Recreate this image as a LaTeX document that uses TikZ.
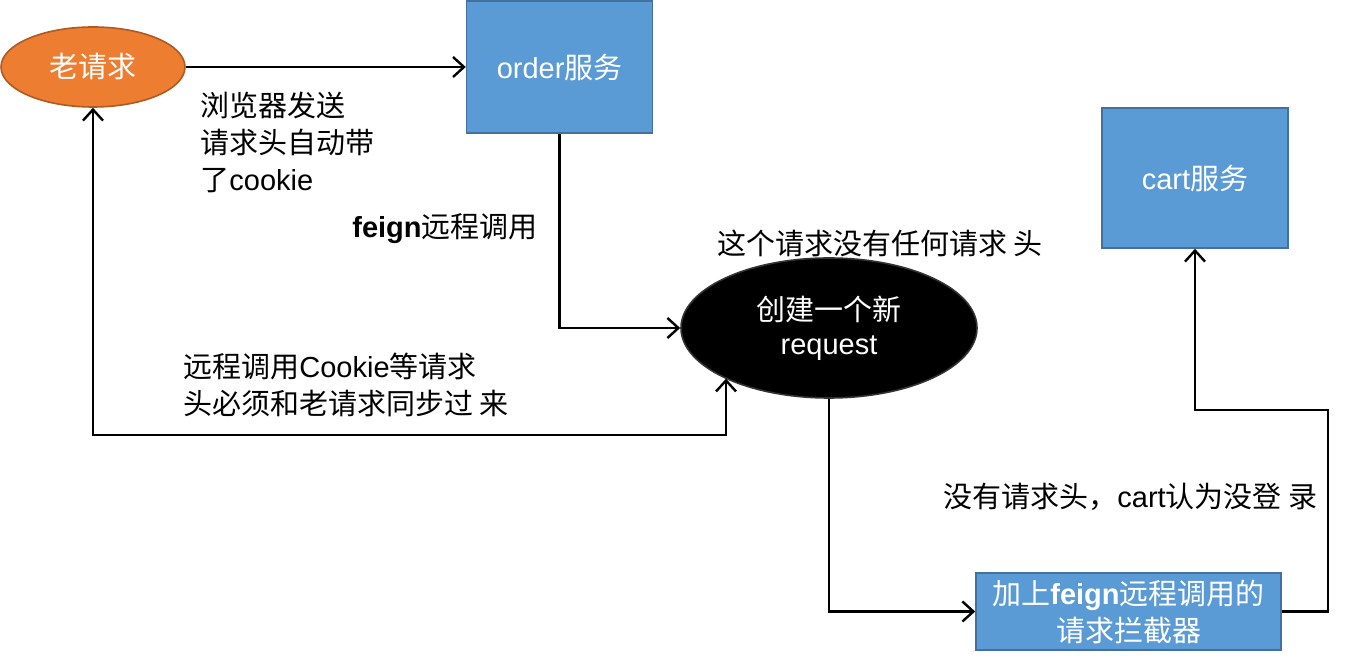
\documentclass[tikz,border=0pt]{standalone}
\usepackage{fontspec}
\setmainfont{Noto Sans CJK SC}
\newfontfamily\latfont{Liberation Sans}
\newcommand{\enw}[1]{{\latfont #1}}
\usepackage{tikz}
\usetikzlibrary{positioning, arrows.meta, shapes.geometric, calc}
\definecolor{svcblue}{RGB}{91,155,213}
\definecolor{svcborder}{RGB}{65,113,156}
\definecolor{reqorange}{RGB}{237,125,49}
\definecolor{reqborder}{RGB}{174,90,33}

\begin{document}
\begin{tikzpicture}[
    x=0.5pt, y=-0.5pt,
    svc/.style={draw=svcborder, fill=svcblue, line width=0.8pt, text=white, align=center, inner sep=0pt},
    req/.style={ellipse, line width=0.8pt, text=white, align=center, inner sep=0pt},
    arr/.style={->, >={Straight Barb[length=5.5pt,width=10pt]}, line width=1.2pt},
    lbl/.style={align=left, inner sep=0pt},
    font=\fontsize{14.5}{18.5}\selectfont
  ]
  \useasboundingbox (0,0) rectangle (1361,662);
  \node[req, draw=reqborder, fill=reqorange, minimum width=92pt, minimum height=40pt] (old) at (93,67) {老请求};
  \node[svc, minimum width=93pt, minimum height=66pt, right=140pt of old] (order) {\enw{order}服务};
  \node[svc, minimum width=93pt, minimum height=70pt] (cart) at (1195,178) {\enw{cart}服务};
  \node[req, draw=black!80, fill=black, minimum width=148pt, minimum height=70pt,
        font=\fontsize{14.5}{17}\selectfont] (newreq) at (829,328) {创建一个新\\\enw{request}};
  \node[svc, minimum width=152.5pt, minimum height=38.5pt] (intercept) at (1128.5,611.5) {加上\enw{\bfseries feign}远程调用的\\请求拦截器};

  \node[lbl, anchor=west] (browsernote) at (200,142) {浏览器发送\\请求头自动带\\了\enw{cookie}};
  \node[lbl, anchor=west] (feignnote) at (352,229) {\enw{\bfseries feign}远程调用};
  \node[lbl, anchor=west] (emptynote) at (717,243) {这个请求没有任何请求 头};
  \node[lbl, anchor=west] (syncnote) at (183,385) {远程调用\enw{Cookie}等请求\\头必须和老请求同步过 来};
  \node[lbl, anchor=west] (cartnote) at (943,497) {没有请求头，\enw{cart}认为没登 录};

  \coordinate (sync) at (726,435);
  \coordinate (turn) at (1328,410);
  \draw[arr] (old.east) -- (old.east -| order.west);
  \draw[arr] (order.south) |- (newreq.west);
  \draw[arr, <->] (old.south) |- (sync) -- (sync |- newreq.206);
  \draw[arr] (newreq.south) |- (intercept.west);
  \draw[arr] (intercept.east) -| (turn) -| (cart.south);
\end{tikzpicture}
\end{document}
